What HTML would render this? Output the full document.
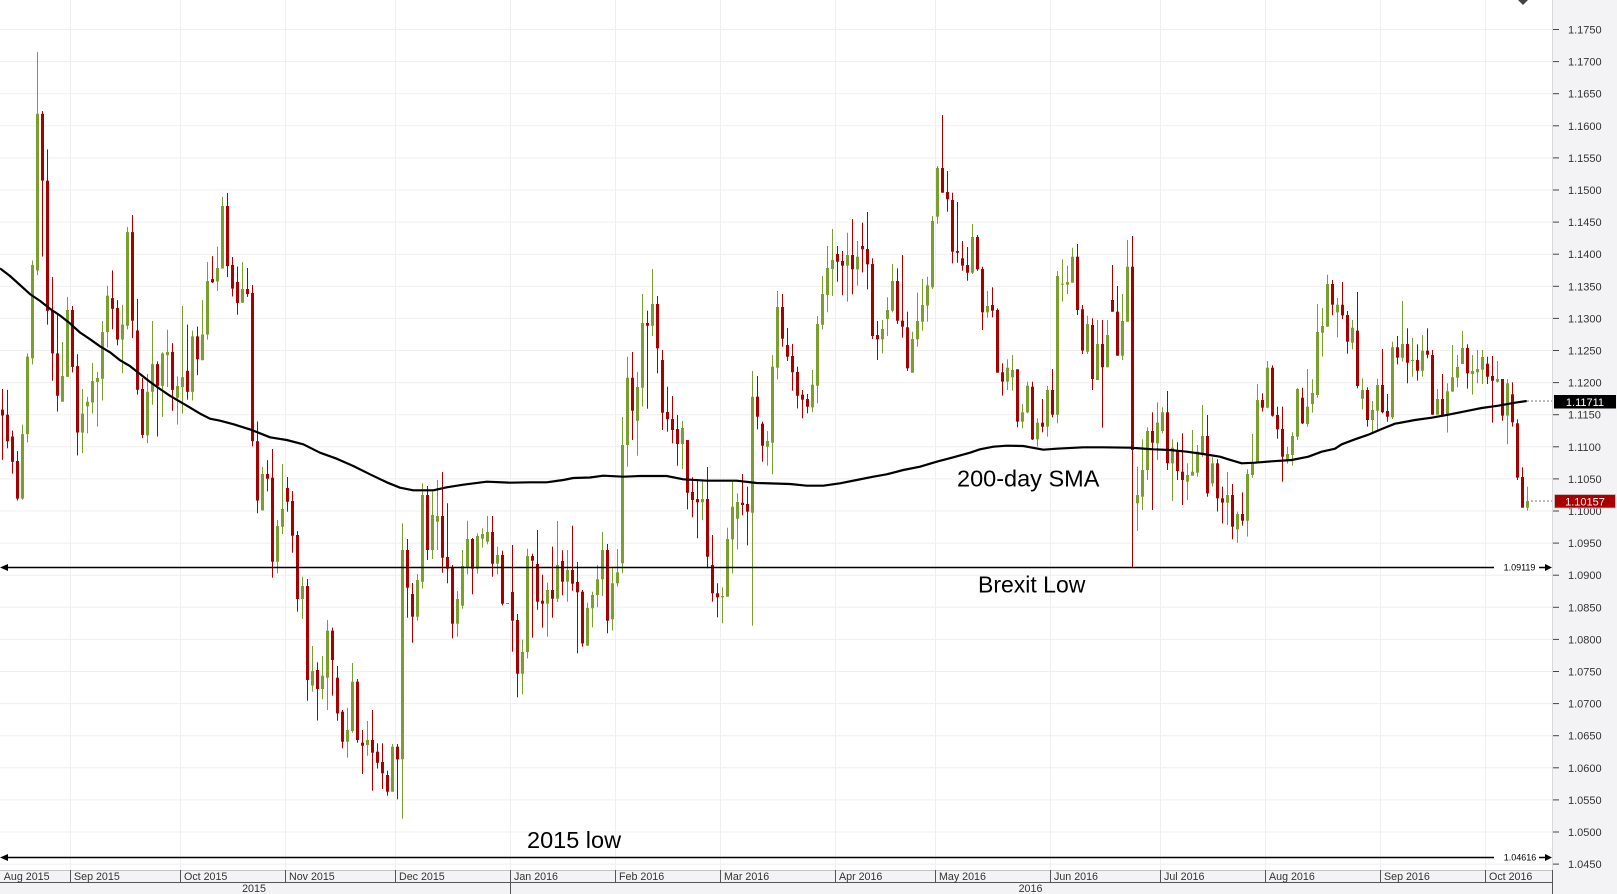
<!DOCTYPE html>
<html><head><meta charset="utf-8">
<style>
html,body{margin:0;padding:0;background:#fff;}
body{width:1617px;height:894px;overflow:hidden;}
svg{display:block;}
text{font-family:"Liberation Sans",Arial,sans-serif;}
</style></head>
<body>
<svg id="c" width="1617" height="894" xmlns="http://www.w3.org/2000/svg">
<rect x="0" y="0" width="1552" height="870" fill="#ffffff"/>
<rect x="1552" y="0" width="65" height="894" fill="#f3f3f6"/>
<rect x="0" y="870" width="1552" height="24" fill="#f3f3f6"/>
<g id="grid"></g>
<line x1="1552.5" y1="0" x2="1552.5" y2="870" stroke="#d8d8d8" stroke-width="1"/>
<g id="candles"></g>
<polyline fill="none" stroke="#000" stroke-width="2.2" stroke-linejoin="round" points="0,268.4 10,276 20,285 30,294.1 40,300.9 50,308.8 60,315.5 70,323.4 80,332.5 90,339.2 100,346.3 110,352.3 120,360.2 130,366.1 140,374 150,381.9 160,389 170,395.8 180,401.7 190,407.6 200,413.6 210,418.7 220,420.7 233.3,424.2 250,429.4 260,433.3 270,437.3 286.7,440 303.3,444.3 320,452.7 336.7,458.7 353.3,466 370,474.3 386.7,482.3 400,487.7 413.3,490.3 433.3,490.3 446.7,487.3 463.3,484.7 486.7,481.7 510,482.7 530,482.3 546.7,482.3 563.3,480 573.3,478 590,477.5 603.3,475.7 623.3,476.7 640,476 666.7,476 683.3,479.3 706.7,480.7 736.7,480.7 756.7,483 790,484 806.7,485.7 823.3,485.7 840,483.3 856.7,480 873.3,476.7 886.7,474.3 903.3,470 920,466.7 936.7,461.7 953.3,457.3 970,452.7 980,449.3 993.3,446.7 1006.7,445.7 1023.3,446 1043.3,449.7 1056.7,448.7 1083.3,447.3 1103.3,447.3 1130,447.7 1153.3,449.3 1170,450 1186.7,451.7 1203.3,454 1220,456.7 1228.3,459.3 1241.7,463.3 1255,462.7 1271.7,461.3 1291.7,460 1308.3,456.7 1321.7,451.7 1335,448.7 1341.7,444.3 1355,439.3 1368.3,434.7 1381.7,429 1395,423.7 1415,420 1431.7,417.7 1448.3,414.7 1468.3,410.7 1481.7,408 1498.3,405.7 1515,402.7 1526.7,401"/>
<line x1="1527" y1="401" x2="1552" y2="401" stroke="#777" stroke-width="1" stroke-dasharray="2,2"/>
<line x1="1531" y1="501" x2="1552" y2="501" stroke="#777" stroke-width="1" stroke-dasharray="2,2"/>

<!-- Brexit low line -->
<line x1="3" y1="567.5" x2="1494" y2="567.5" stroke="#000" stroke-width="1.5"/>
<polygon points="0,567.5 8,564 8,571" fill="#000"/>
<text x="1519.5" y="570.5" font-size="9" text-anchor="middle" fill="#000">1.09119</text>
<line x1="1539" y1="567.5" x2="1546" y2="567.5" stroke="#000" stroke-width="1.5"/>
<polygon points="1545,564 1552,567.5 1545,571" fill="#000"/>
<text x="978" y="592.7" font-size="23" fill="#000">Brexit Low</text>

<!-- 2015 low line -->
<line x1="3" y1="857.5" x2="1494" y2="857.5" stroke="#000" stroke-width="1.5"/>
<polygon points="0,857.5 8,854 8,861" fill="#000"/>
<text x="1520" y="860.5" font-size="9" text-anchor="middle" fill="#000">1.04616</text>
<line x1="1539" y1="857.5" x2="1546" y2="857.5" stroke="#000" stroke-width="1.5"/>
<polygon points="1545,854 1552,857.5 1545,861" fill="#000"/>
<text x="527" y="848" font-size="23.5" fill="#000">2015 low</text>

<text x="957" y="486.7" font-size="23.5" fill="#000">200-day SMA</text>

<polygon points="1518,0 1528,0 1523,5" fill="#444"/>

<!-- y axis ticks -->
<g id="ticks"></g>
<g font-size="11" fill="#333">
<text x="1568" y="33.5">1.1750</text>
<text x="1568" y="65.6">1.1700</text>
<text x="1568" y="97.7">1.1650</text>
<text x="1568" y="129.8">1.1600</text>
<text x="1568" y="161.9">1.1550</text>
<text x="1568" y="194">1.1500</text>
<text x="1568" y="226.1">1.1450</text>
<text x="1568" y="258.2">1.1400</text>
<text x="1568" y="290.3">1.1350</text>
<text x="1568" y="322.4">1.1300</text>
<text x="1568" y="354.5">1.1250</text>
<text x="1568" y="386.6">1.1200</text>
<text x="1568" y="418.7">1.1150</text>
<text x="1568" y="450.8">1.1100</text>
<text x="1568" y="482.9">1.1050</text>
<text x="1568" y="515">1.1000</text>
<text x="1568" y="547.1">1.0950</text>
<text x="1568" y="579.2">1.0900</text>
<text x="1568" y="611.3">1.0850</text>
<text x="1568" y="643.4">1.0800</text>
<text x="1568" y="675.5">1.0750</text>
<text x="1568" y="707.6">1.0700</text>
<text x="1568" y="739.7">1.0650</text>
<text x="1568" y="771.8">1.0600</text>
<text x="1568" y="803.9">1.0550</text>
<text x="1568" y="836">1.0500</text>
<text x="1568" y="868.1">1.0450</text>
</g>

<!-- price boxes -->
<rect x="1554" y="395" width="62" height="13.5" fill="#000"/>
<text x="1585" y="405.8" font-size="11" text-anchor="middle" fill="#fff">1.11711</text>
<rect x="1554.5" y="494.5" width="61" height="13.5" fill="#a80000" stroke="#c8c8c8" stroke-width="0.8"/>
<text x="1585" y="505.3" font-size="11" text-anchor="middle" fill="#fff">1.10157</text>

<!-- x axis -->
<line x1="0" y1="870.5" x2="1552" y2="870.5" stroke="#c4c4c4" stroke-width="1"/>
<line x1="0" y1="882.5" x2="1552" y2="882.5" stroke="#555" stroke-width="1"/>
<line x1="1552.5" y1="870" x2="1552.5" y2="894" stroke="#555" stroke-width="1"/>
<g stroke="#555" stroke-width="1">
<line x1="70.5" y1="870" x2="70.5" y2="882"/>
<line x1="180.5" y1="870" x2="180.5" y2="882"/>
<line x1="285.5" y1="870" x2="285.5" y2="882"/>
<line x1="395.5" y1="870" x2="395.5" y2="882"/>
<line x1="510.5" y1="870" x2="510.5" y2="894"/>
<line x1="615.5" y1="870" x2="615.5" y2="882"/>
<line x1="720.5" y1="870" x2="720.5" y2="882"/>
<line x1="835.5" y1="870" x2="835.5" y2="882"/>
<line x1="935.5" y1="870" x2="935.5" y2="882"/>
<line x1="1050.5" y1="870" x2="1050.5" y2="882"/>
<line x1="1160.5" y1="870" x2="1160.5" y2="882"/>
<line x1="1265.5" y1="870" x2="1265.5" y2="882"/>
<line x1="1380.5" y1="870" x2="1380.5" y2="882"/>
<line x1="1485.5" y1="870" x2="1485.5" y2="882"/>
</g>
<g font-size="10.7" fill="#333">
<text x="3.8" y="880">Aug 2015</text>
<text x="74" y="880">Sep 2015</text>
<text x="184" y="880">Oct 2015</text>
<text x="289" y="880">Nov 2015</text>
<text x="399" y="880">Dec 2015</text>
<text x="514" y="880">Jan 2016</text>
<text x="619" y="880">Feb 2016</text>
<text x="724" y="880">Mar 2016</text>
<text x="839" y="880">Apr 2016</text>
<text x="939" y="880">May 2016</text>
<text x="1054" y="880">Jun 2016</text>
<text x="1164" y="880">Jul 2016</text>
<text x="1269" y="880">Aug 2016</text>
<text x="1384" y="880">Sep 2016</text>
<text x="1489" y="880">Oct 2016</text>
<text x="254" y="892" text-anchor="middle">2015</text>
<text x="1030.5" y="892" text-anchor="middle">2016</text>
</g>
</svg>
<script>
(function(){
var G='#7a9f2e',R='#a60000',N='#888';
var grid='';
for(var i=0;i<27;i++){var y=(29.5+32.1*i).toFixed(1);grid+='<line x1="0" y1="'+y+'" x2="1552" y2="'+y+'" stroke="#efefef" stroke-width="1"/>';}
[70.5,180.5,285.5,395.5,510.5,615.5,720.5,835.5,935.5,1050.5,1160.5,1265.5,1380.5,1485.5].forEach(function(x){grid+='<line x1="'+x+'" y1="0" x2="'+x+'" y2="870" stroke="#efefef" stroke-width="1"/>';});
document.getElementById('grid').innerHTML=grid;
var tk='';
for(var i=0;i<27;i++){var y=(29.5+32.1*i).toFixed(1);tk+='<line x1="1553" y1="'+y+'" x2="1559" y2="'+y+'" stroke="#444" stroke-width="1"/>';}
document.getElementById('ticks').innerHTML=tk;
var segs=[
[0,30,2.529,"r960,975,908,1087 r973,1040,910,1058 r1028,1092,1013,1122 r1090,1185,1065,1190 g1022,1185,998,1188 g826,1022,818,1043 g594,830,583,846 g212,608,56,620 r212,381,205,573 r381,710,302,745 r710,818,625,887 r818,925,720,965 g875,940,789,940 g708,877,675,877 r708,852,698,866 r850,1018,820,1076 g970,1018,908,1070 g940,952,928,1020 g888,942,842,970 g880,890,865,1003 g764,882,736,937 g672,764,647,803 r678,705,608,757 r703,783,683,797 g745,783,695,868 g511,748,498,757 r511,735,468,779 r760,910,680,922 r908,1024,880,1032 g915,1025,870,1045 g845,915,736,948 r845,900,838,1028 g818,900,815,978 g814,822,758,903 r814,910,792,963 g900,930,876,998 g878,903,698,970 r862,915,745,935 g775,915,760,937 r775,833,750,873 g770,835,683,835 g635,770,587,783 r630,638,572,640 g602,636,548,660 g445,603,422,603 r445,597,412,625 r594,654,574,674 r637,690,598,720 g655,690,587,690 r655,668,602,675 r665,1040,645,1053 r1040,1190,990,1222 g1123,1215,1105,1215 r1123,1135,1088,1167"],
[54,380,3,"r293,545,207,593 g438,545,420,580 g387,440,252,462 r324,365,291,395 r363,467,333,518 r465,657,453,695 g618,657,590,717 r618,900,597,962 g873,917,798,935 r870,927,847,1022 g887,927,828,958 g752,893,720,990 r752,840,743,947 r893,1000,858,1022 r995,1085,990,1105 g1050,1085,983,1133 g905,1053,849,1058 r905,1080,897,1088 r1088,1097,1050,1182 g1080,1095,1023,1127 r1080,1118,990,1232 r1115,1148,1090,1166 r1146,1180,1090,1227 r1185,1235,1172,1247 g1100,1235,1092,1235 r1100,1138,1092,1258 g510,1138,430,1316 r510,623,477,713 r642,710,609,788 g600,710,582,722 g345,605,310,626 r345,510,318,540 g405,510,335,537 g408,425,300,510 r408,533,276,578 r531,566,370,610 r561,731,555,775 g657,731,633,770 g558,677,510,686 g477,562,422,583 r477,566,474,643 g468,566,460,581 g462,476,445,503 g456,485,408,493 r456,551,408,590 g525,551,500,583 r525,671,512,676 n669,671,669,671 r636,722,495,815 r720,881,702,952 g816,881,779,943 g528,816,506,835 r528,542,521,773 r552,665,450,689 r662,671,584,743 g630,671,608,770 r630,656,500,713 g555,656,423,666 r543,605,511,646 g570,605,510,665 r570,611,437,632 r606,637,546,820 r635,790,630,800 g684,797,668,797"],
[118,240,3,"g1065,1105,1055,1162 g1018,1065,975,1102 g930,1018,876,1068 r930,1142,912,1180 g1030,1138,985,1172 g997,1030,927,1040 g615,970,531,1000 g413,615,350,680 r413,512,336,600 g441,542,396,647 g249,443,162,500 r249,257,212,506 g192,257,87,288 r192,325,168,400 r360,518,330,570 r516,538,440,575 r537,570,468,610 r567,612,525,677 g564,612,543,687 r600,758,600,808 r756,780,712,832 r777,787,720,895 g777,787,718,840 r777,950,681,985 r975,1060,885,1085 r1060,1072,1030,1132 g1068,1072,1042,1150 g897,1070,863,1070 g800,898,725,1000 g786,836,760,928 r788,795,702,826 r792,815,740,916 g470,818,393,1157 r470,530,408,568 r551,617,545,665 g603,620,573,677 g380,608,345,703 g201,383,153,418 r201,296,162,320 r315,350,264,363 r348,397,312,452 r396,467,380,505 r464,479,450,535 r477,500,462,520 g434,502,390,517 g252,437,228,490 g162,254,108,268 g84,165,18,217 g60,87,-33,168 r42,65,18,125 r63,77,33,166 g45,77,-22,185 r45,88,-63,163 g50,88,3,137 r18,28,-52,97 r27,73,-84,148"],
[174,100,3,"r492,708,475,717 r705,718,663,780 g687,718,660,760 g630,657,592,708 g543,632,492,637 r543,662,505,672 r662,680,465,713 r682,805,635,813 g717,818,695,818 g663,718,578,740 g615,665,537,692 g556,617,530,665 g363,562,348,567 g204,350,198,371 r204,278,45,278 r276,298,213,335 r300,455,278,490 r453,458,306,488 r475,497,423,512 r495,518,441,542 g411,518,372,522 r411,508,405,512 r507,637,500,690 g618,637,573,653 r615,632,562,652 r630,818,625,818 r817,845,790,887 g803,845,778,870 g810,832,765,872 r808,965,808,982 g937,965,912,985 g857,937,845,940 r860,1018,845,1020 g968,1018,955,1040 r968,980,897,997 g870,980,858,1010 r870,944,807,952 g528,944,513,970 g551,554,478,605 g546,554,497,582 g470,548,443,548 r470,630,432,645 r628,752,615,762 g672,755,647,762 r675,837,655,870 g732,840,660,840 r732,802,660,983 g705,802,660,802 r600,635,495,635 r635,767,558,767 g663,767,582,780 g500,665,420,665 r500,1050,408,1402 g1185,1210,1100,1293 g1110,1190,1018,1230 g993,1110,982,1140 r993,1028,937,1230 g968,1030,907,1080 g937,993,922,1000 r937,1090,873,1110 g1043,1090,1018,1203 r1050,1113,1027,1140 r1115,1140,1000,1215 g1125,1145,1090,1200 g1115,1127,990,1125 g1055,1118,1035,1130 g1008,1060,915,1070 r1008,1180,945,1190 g1090,1150,1072,1160"],
[243,260,3,"r610,715,598,755 r715,728,680,790 g705,728,636,795 r705,800,672,838 g762,808,755,848 r762,782,697,797 g642,782,628,830 g606,645,522,653 g420,606,372,610 r420,443,400,455 g323,443,303,445 r323,467,316,470 r465,508,440,536 r507,590,440,665 g582,602,560,611 g528,585,517,617 g387,530,384,540 r413,490,383,492 g440,492,327,500 g399,432,358,458 g216,405,132,413 g198,218,144,290 g72,200,44,200 r72,134,60,166 g134,157,114,232 r134,166,66,177 r165,245,153,281 g203,248,180,268 r212,378,96,385 g390,416,355,448 r390,480,382,500 g450,480,423,518 g375,452,356,510 r375,457,267,460 r453,470,402,485 g262,472,245,477 r262,293,228,313 g252,293,123,305 r252,308,205,370 g300,302,234,350 r300,332,253,362 g272,332,225,350 r272,284,205,295 r285,464,270,464 g417,464,387,464 r417,467,342,470 g394,467,370,518 g352,395,255,395 g321,353,285,382 g264,312,213,312 r264,340,253,386 g333,342,285,404 g327,337,270,370 g291,329,270,372 r311,350,290,372 r348,362,288,488 g357,365,303,368 r357,467,357,482 g370,467,357,553 r403,487,367,500 r490,653,478,660 r651,743,622,743 g723,743,680,752"]
];
var h='';
segs.forEach(function(s){
  var k=s[0],y0=s[1],sy=s[2];
  s[3].trim().split(/\s+/).forEach(function(t){
    var c=t.charAt(0),v=t.slice(1).split(',').map(Number);
    var col=c==='g'?G:(c==='r'?R:N);
    var bt=y0+v[0]/sy,bb=y0+v[1]/sy,wt=y0+v[2]/sy,wb=y0+v[3]/sy;
    var x=5*k;
    h+='<rect x="'+(x+2)+'" y="'+wt.toFixed(1)+'" width="1" height="'+Math.max(1,wb-wt).toFixed(1)+'" fill="'+col+'"/>';
    h+='<rect x="'+(x+1)+'" y="'+bt.toFixed(1)+'" width="3" height="'+Math.max(1,bb-bt).toFixed(1)+'" fill="'+col+'"/>';
    k++;
  });
});
document.getElementById('candles').innerHTML=h;
})();
</script>
</body></html>
